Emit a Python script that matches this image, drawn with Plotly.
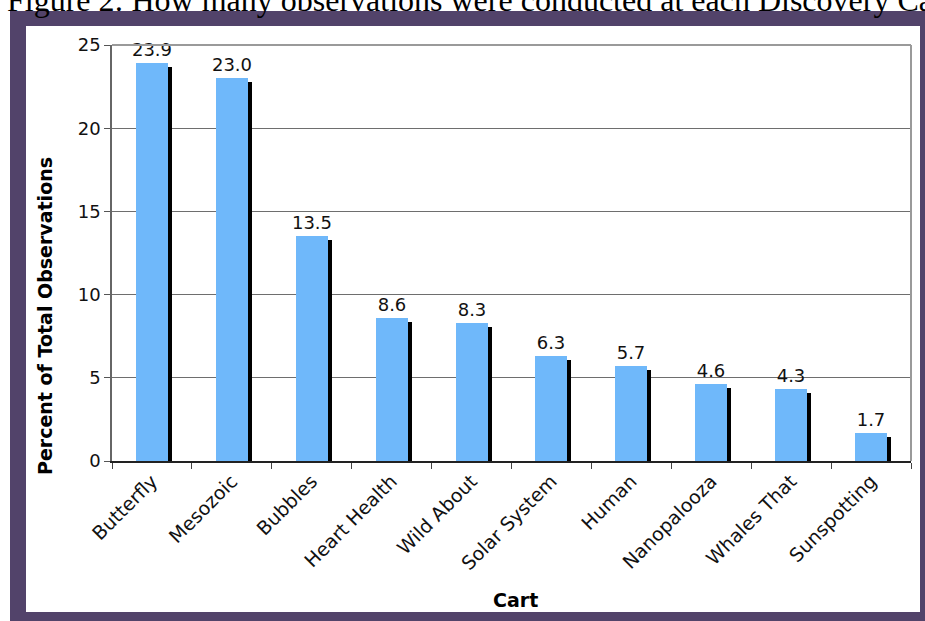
import plotly.graph_objects as go

# ---- data ----
carts = ["Butterfly", "Mesozoic", "Bubbles", "Heart Health", "Wild About",
         "Solar System", "Human", "Nanopalooza", "Whales That", "Sunspotting"]
percent = [23.9, 23.0, 13.5, 8.6, 8.3, 6.3, 5.7, 4.6, 4.3, 1.7]
labels = [f"{v:.1f}" for v in percent]
y_ticks = [0, 5, 10, 15, 20, 25]

title_text = "Figure 2: How many observations were conducted at each Discovery Cart?"

# ---- geometry ----
W, H = 925, 621
L, R, T, B = 112, 14, 45, 160
PW, PH = W - L - R, H - T - B
SHADOW_DROP = 4 * 25 / PH  # shadow 4px lower than bar


def px_x(x):
    return (x - L) / PW


def px_y(y):
    return (H - B - y) / PH


FONT = "DejaVu Sans, Verdana, sans-serif"
PURPLE = "#52436a"
BLUE = "#6fb8fa"

fig = go.Figure()
# shadow bars
fig.add_trace(go.Bar(
    x=carts, y=[v - SHADOW_DROP for v in percent],
    width=0.4, offset=-0.15,
    marker=dict(color="black", line=dict(width=0)),
    hoverinfo="skip", showlegend=False,
))
# main bars
fig.add_trace(go.Bar(
    x=carts, y=percent,
    width=0.4, offset=-0.2,
    marker=dict(color=BLUE, line=dict(width=0)),
    text=labels, textposition="outside", cliponaxis=False,
    constraintext="none",
    textfont=dict(family=FONT, size=18, color="#111"),
    showlegend=False,
))

shapes = [
    # purple frame
    dict(type="rect", xref="paper", yref="paper", layer="below",
         x0=px_x(10), x1=px_x(940), y0=px_y(640), y1=px_y(11),
         fillcolor=PURPLE, line=dict(width=0)),
    # white inner
    dict(type="rect", xref="paper", yref="paper", layer="below",
         x0=px_x(26), x1=px_x(920), y0=px_y(612), y1=px_y(26),
         fillcolor="white", line=dict(width=0)),
    # top border
    dict(type="line", xref="paper", yref="paper", x0=0, x1=1, y0=1, y1=1,
         line=dict(color="#9a9a9a", width=2)),
    # right border
    dict(type="line", xref="paper", yref="paper", x0=1, x1=1, y0=0, y1=1,
         line=dict(color="#9a9a9a", width=2)),
]

annotations = [
    dict(text=title_text, xref="paper", yref="paper",
         x=px_x(5), y=px_y(20), xanchor="left", yanchor="bottom",
         showarrow=False,
         font=dict(family="Liberation Serif, Times New Roman, serif", size=32, color="black")),
    dict(text="<b>Cart</b>", xref="paper", yref="paper",
         x=px_x(515), y=px_y(600), xanchor="center", yanchor="middle",
         showarrow=False, font=dict(family=FONT, size=19, color="black")),
    dict(text="<b>Percent of Total Observations</b>", xref="paper", yref="paper",
         x=px_x(45), y=px_y(316), xanchor="center", yanchor="middle",
         textangle=-90, showarrow=False,
         font=dict(family=FONT, size=19, color="black")),
]

fig.update_layout(
    width=W, height=H,
    margin=dict(l=L, r=R, t=T, b=B, autoexpand=False),
    paper_bgcolor="white",
    plot_bgcolor="#d4d4d4",
    barmode="overlay",
    bargap=0,
    shapes=shapes,
    annotations=annotations,
    font=dict(family=FONT, color="black"),
    xaxis=dict(
        type="category", tickson="boundaries", ticks="outside", ticklen=6,
        tickcolor="#444", tickwidth=1.2, tickangle=-45,
        tickfont=dict(family=FONT, size=19, color="#111"),
        showgrid=False, showline=True, linecolor="#222", linewidth=1.5,
        automargin=False, fixedrange=True,
    ),
    yaxis=dict(
        range=[0, 25], tickvals=y_ticks, ticks="outside", ticklen=6,
        tickcolor="#555", tickwidth=1.2,
        tickfont=dict(family=FONT, size=18, color="#111"),
        showgrid=True, gridcolor="#6e6e6e", gridwidth=1.3,
        showline=True, linecolor="#666", linewidth=1.5,
        zeroline=False, automargin=False, fixedrange=True,
    ),
)

fig.write_html("out.html")
